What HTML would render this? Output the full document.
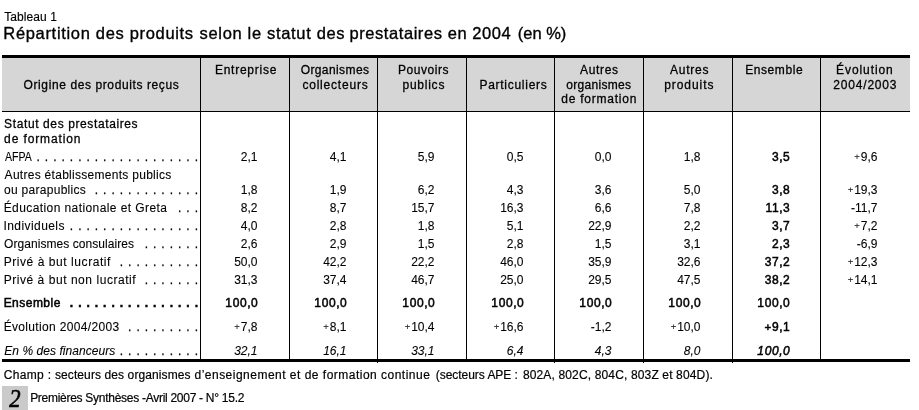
<!DOCTYPE html>
<html lang="fr">
<head>
<meta charset="utf-8">
<title>Tableau 1</title>
<style>
html,body{margin:0;padding:0;background:#fff;}
body{width:919px;height:410px;position:relative;overflow:hidden;font-family:"Liberation Sans",sans-serif;color:#000;font-size:12px;-webkit-text-stroke:0.1px #000;}
#wrap{position:absolute;left:0;top:0;width:919px;height:410px;will-change:transform;}
.abs{position:absolute;white-space:nowrap;}
#t1{left:4.25px;letter-spacing:0.085px;top:10px;font-size:12px;height:15px;line-height:15px;-webkit-text-stroke:0.15px #000;}
.title{top:21.6px;font-size:16.5px;height:22px;line-height:22px;-webkit-text-stroke:0.35px #000;}
#topb{left:2px;top:55px;width:908px;height:3px;background:#000;}
#hbg{left:2px;top:58px;width:908px;height:53px;background:#d6d6d6;}
#hline{left:2px;top:111px;width:908px;height:1px;background:#000;}
#botb{left:2px;top:359px;width:908px;height:3px;background:#000;}
.v{position:absolute;top:58px;width:1px;height:305px;background:#000;}
.h{position:absolute;font-size:12px;height:15px;line-height:15px;white-space:nowrap;-webkit-text-stroke:0.28px #000;}
.hb{-webkit-text-stroke:0.28px #000;}
.lab{position:absolute;height:15px;line-height:15px;white-space:nowrap;}
.d{position:absolute;right:720.2px;height:15px;line-height:15px;white-space:nowrap;font-weight:normal;-webkit-text-stroke:0.25px #000;letter-spacing:0.827px;}
.n{position:absolute;text-align:right;width:57px;height:15px;line-height:15px;white-space:nowrap;}
.b{font-weight:bold;}
.n.b{letter-spacing:0.6px;width:57.9px;font-weight:normal;-webkit-text-stroke:0.5px #000;}
.i{font-style:italic;}
.d.b{-webkit-text-stroke:0.5px #000;}
.lab.b{font-weight:normal;-webkit-text-stroke:0.5px #000;}
.p{font-size:9.5px;color:#222;position:relative;top:-0.7px;margin-right:0.9px;letter-spacing:0;}
.b .p{font-size:11.5px;top:-0.3px;margin-right:0.6px;color:#000;}
.champ{top:368px;height:15px;line-height:15px;-webkit-text-stroke:0.2px #000;}
#box{left:2px;top:386px;width:26px;height:24px;background:#cacaca;}
#two{left:2.2px;top:386.1px;width:26px;height:26px;text-align:center;font-family:"Liberation Serif",serif;font-style:italic;font-weight:normal;font-size:24.6px;line-height:26px;-webkit-text-stroke:0.7px #000;transform:scaleX(0.92);}
#foot{left:30.15px;letter-spacing:-0.278px;top:391.1px;height:15px;line-height:15px;font-size:12px;-webkit-text-stroke:0.2px #000;}
</style>
</head>
<body>
<div id="wrap">
<div class="abs" id="t1">Tableau 1</div>
<div class="abs title" style="left:3.31px;letter-spacing:0.676px;">Répartition des produits</div>
<div class="abs title" style="left:199.54px;letter-spacing:0.671px;">selon le statut des</div>
<div class="abs title" style="left:349.47px;letter-spacing:0.569px;">prestataires en 2004</div>
<div class="abs title" style="left:517.83px;letter-spacing:-0.014px;">(en %)</div>
<div class="abs" id="topb"></div>
<div class="abs" id="hbg"></div>
<div class="abs" id="hline"></div>
<div class="abs" id="botb"></div>
<div class="v" style="left:200px;height:303px"></div>
<div class="v" style="left:289px;height:303px"></div>
<div class="v" style="left:377px;height:305px"></div>
<div class="v" style="left:466px;height:303px"></div>
<div class="v" style="left:554px;height:305px"></div>
<div class="v" style="left:643px;height:305px"></div>
<div class="v" style="left:732px;height:305px"></div>
<div class="v" style="left:820px;height:303px"></div>
<div class="h" style="top:78.0px;left:23.55px;letter-spacing:0.603px;">Origine des produits reçus</div>
<div class="h" style="top:63.0px;left:214.95px;letter-spacing:0.742px;">Entreprise</div>
<div class="h" style="top:63.0px;left:300.65px;letter-spacing:0.407px;">Organismes</div>
<div class="h" style="top:78.0px;left:302.40px;letter-spacing:0.794px;">collecteurs</div>
<div class="h" style="top:63.0px;left:398.05px;letter-spacing:0.523px;">Pouvoirs</div>
<div class="h" style="top:78.0px;left:402.45px;letter-spacing:0.766px;">publics</div>
<div class="h" style="top:78.0px;left:479.45px;letter-spacing:0.727px;">Particuliers</div>
<div class="h" style="top:63.0px;left:580.00px;letter-spacing:0.664px;">Autres</div>
<div class="h" style="top:78.0px;left:566.20px;letter-spacing:0.319px;">organismes</div>
<div class="h" style="top:92.0px;left:561.30px;letter-spacing:0.761px;">de formation</div>
<div class="h" style="top:63.0px;left:670.00px;letter-spacing:0.744px;">Autres</div>
<div class="h" style="top:78.0px;left:664.25px;letter-spacing:0.923px;">produits</div>
<div class="h" style="top:63.0px;left:745.15px;letter-spacing:0.587px;">Ensemble</div>
<div class="h" style="top:63.0px;left:836.05px;letter-spacing:0.920px;">Évolution</div>
<div class="h" style="top:78.0px;left:833.30px;letter-spacing:0.812px;">2004/2003</div>
<div class="lab hb" style="top:117.0px;left:4.10px;letter-spacing:0.611px;">Statut des prestataires</div>
<div class="lab hb" style="top:132.0px;left:4.10px;letter-spacing:0.879px;">de formation</div>
<div class="lab" style="top:168.0px;left:4.60px;letter-spacing:0.284px;">Autres établissements publics</div>
<div class="lab" style="top:150.0px;left:4.60px;transform:scaleX(0.8802);transform-origin:0 0;">AFPA</div>
<div class="d" style="top:150px">. . . . . . . . . . . . . . . . . . . .</div>
<div class="n" style="left:200.5px;top:150.0px">2,1</div>
<div class="n" style="left:289.5px;top:150.0px">4,1</div>
<div class="n" style="left:377.5px;top:150.0px">5,9</div>
<div class="n" style="left:466.5px;top:150.0px">0,5</div>
<div class="n" style="left:554.5px;top:150.0px">0,0</div>
<div class="n" style="left:643.5px;top:150.0px">1,8</div>
<div class="n b" style="left:732.5px;top:150.0px">3,5</div>
<div class="n" style="left:820.5px;top:150.0px"><span class="p">+</span>9,6</div>
<div class="lab" style="top:183.0px;left:4.10px;letter-spacing:0.281px;">ou parapublics</div>
<div class="d" style="top:183px">. . . . . . . . . . . . .</div>
<div class="n" style="left:200.5px;top:183.0px">1,8</div>
<div class="n" style="left:289.5px;top:183.0px">1,9</div>
<div class="n" style="left:377.5px;top:183.0px">6,2</div>
<div class="n" style="left:466.5px;top:183.0px">4,3</div>
<div class="n" style="left:554.5px;top:183.0px">3,6</div>
<div class="n" style="left:643.5px;top:183.0px">5,0</div>
<div class="n b" style="left:732.5px;top:183.0px">3,8</div>
<div class="n" style="left:820.5px;top:183.0px"><span class="p">+</span>19,3</div>
<div class="lab" style="top:201.0px;left:3.65px;letter-spacing:0.416px;">Éducation nationale et Greta</div>
<div class="d" style="top:201px">. . .</div>
<div class="n" style="left:200.5px;top:201.0px">8,2</div>
<div class="n" style="left:289.5px;top:201.0px">8,7</div>
<div class="n" style="left:377.5px;top:201.0px">15,7</div>
<div class="n" style="left:466.5px;top:201.0px">16,3</div>
<div class="n" style="left:554.5px;top:201.0px">6,6</div>
<div class="n" style="left:643.5px;top:201.0px">7,8</div>
<div class="n b" style="left:732.5px;top:201.0px">11,3</div>
<div class="n" style="left:820.5px;top:201.0px">-11,7</div>
<div class="lab" style="top:219.0px;left:3.50px;letter-spacing:0.420px;">Individuels</div>
<div class="d" style="top:219px">. . . . . . . . . . . . . . . .</div>
<div class="n" style="left:200.5px;top:219.0px">4,0</div>
<div class="n" style="left:289.5px;top:219.0px">2,8</div>
<div class="n" style="left:377.5px;top:219.0px">1,8</div>
<div class="n" style="left:466.5px;top:219.0px">5,1</div>
<div class="n" style="left:554.5px;top:219.0px">22,9</div>
<div class="n" style="left:643.5px;top:219.0px">2,2</div>
<div class="n b" style="left:732.5px;top:219.0px">3,7</div>
<div class="n" style="left:820.5px;top:219.0px"><span class="p">+</span>7,2</div>
<div class="lab" style="top:237.0px;left:4.05px;letter-spacing:0.063px;">Organismes consulaires</div>
<div class="d" style="top:237px">. . . . . . .</div>
<div class="n" style="left:200.5px;top:237.0px">2,6</div>
<div class="n" style="left:289.5px;top:237.0px">2,9</div>
<div class="n" style="left:377.5px;top:237.0px">1,5</div>
<div class="n" style="left:466.5px;top:237.0px">2,8</div>
<div class="n" style="left:554.5px;top:237.0px">1,5</div>
<div class="n" style="left:643.5px;top:237.0px">3,1</div>
<div class="n b" style="left:732.5px;top:237.0px">2,3</div>
<div class="n" style="left:820.5px;top:237.0px">-6,9</div>
<div class="lab" style="top:255.0px;left:3.65px;letter-spacing:0.565px;">Privé à but lucratif</div>
<div class="d" style="top:255px">. . . . . . . . . .</div>
<div class="n" style="left:200.5px;top:255.0px">50,0</div>
<div class="n" style="left:289.5px;top:255.0px">42,2</div>
<div class="n" style="left:377.5px;top:255.0px">22,2</div>
<div class="n" style="left:466.5px;top:255.0px">46,0</div>
<div class="n" style="left:554.5px;top:255.0px">35,9</div>
<div class="n" style="left:643.5px;top:255.0px">32,6</div>
<div class="n b" style="left:732.5px;top:255.0px">37,2</div>
<div class="n" style="left:820.5px;top:255.0px"><span class="p">+</span>12,3</div>
<div class="lab" style="top:273.0px;left:3.65px;letter-spacing:0.547px;">Privé à but non lucratif</div>
<div class="d" style="top:273px">. . . . . . .</div>
<div class="n" style="left:200.5px;top:273.0px">31,3</div>
<div class="n" style="left:289.5px;top:273.0px">37,4</div>
<div class="n" style="left:377.5px;top:273.0px">46,7</div>
<div class="n" style="left:466.5px;top:273.0px">25,0</div>
<div class="n" style="left:554.5px;top:273.0px">29,5</div>
<div class="n" style="left:643.5px;top:273.0px">47,5</div>
<div class="n b" style="left:732.5px;top:273.0px">38,2</div>
<div class="n" style="left:820.5px;top:273.0px"><span class="p">+</span>14,1</div>
<div class="lab b" style="top:296.0px;left:3.65px;letter-spacing:0.473px;">Ensemble</div>
<div class="d b" style="top:296px">. . . . . . . . . . . . . . . .</div>
<div class="n b" style="left:200.5px;top:296.0px">100,0</div>
<div class="n b" style="left:289.5px;top:296.0px">100,0</div>
<div class="n b" style="left:377.5px;top:296.0px">100,0</div>
<div class="n b" style="left:466.5px;top:296.0px">100,0</div>
<div class="n b" style="left:554.5px;top:296.0px">100,0</div>
<div class="n b" style="left:643.5px;top:296.0px">100,0</div>
<div class="n b" style="left:732.5px;top:296.0px">100,0</div>
<div class="lab" style="top:320.0px;left:3.65px;letter-spacing:0.336px;">Évolution 2004/2003</div>
<div class="d" style="top:320px">. . . . . . . . .</div>
<div class="n" style="left:200.5px;top:320.0px"><span class="p">+</span>7,8</div>
<div class="n" style="left:289.5px;top:320.0px"><span class="p">+</span>8,1</div>
<div class="n" style="left:377.5px;top:320.0px"><span class="p">+</span>10,4</div>
<div class="n" style="left:466.5px;top:320.0px"><span class="p">+</span>16,6</div>
<div class="n" style="left:554.5px;top:320.0px">-1,2</div>
<div class="n" style="left:643.5px;top:320.0px"><span class="p">+</span>10,0</div>
<div class="n b" style="left:732.5px;top:320.0px"><span class="p">+</span>9,1</div>
<div class="lab i" style="top:344.0px;left:4.25px;letter-spacing:0.049px;">En % des financeurs</div>
<div class="d" style="top:344px">. . . . . . . . . .</div>
<div class="n i" style="left:200.5px;top:344.0px">32,1</div>
<div class="n i" style="left:289.5px;top:344.0px">16,1</div>
<div class="n i" style="left:377.5px;top:344.0px">33,1</div>
<div class="n i" style="left:466.5px;top:344.0px">6,4</div>
<div class="n i" style="left:554.5px;top:344.0px">4,3</div>
<div class="n i" style="left:643.5px;top:344.0px">8,0</div>
<div class="n i b" style="left:732.5px;top:344.0px">100,0</div>
<div class="abs champ" style="left:3.70px;letter-spacing:0.339px;">Champ :</div>
<div class="abs champ" style="left:54.90px;letter-spacing:0.105px;">secteurs des organismes</div>
<div class="abs champ" style="left:194.50px;letter-spacing:0.487px;">d’enseignement et de formation continue</div>
<div class="abs champ" style="left:435.80px;letter-spacing:-0.041px;">(secteurs APE :</div>
<div class="abs champ" style="left:522.90px;letter-spacing:0.146px;">802A, 802C, 804C, 803Z et 804D).</div>
<div class="abs" id="box"></div>
<div class="abs" id="two">2</div>
<div class="abs" id="foot">Premières Synthèses -Avril 2007 - N° 15.2</div>
</div>
</body>
</html>
